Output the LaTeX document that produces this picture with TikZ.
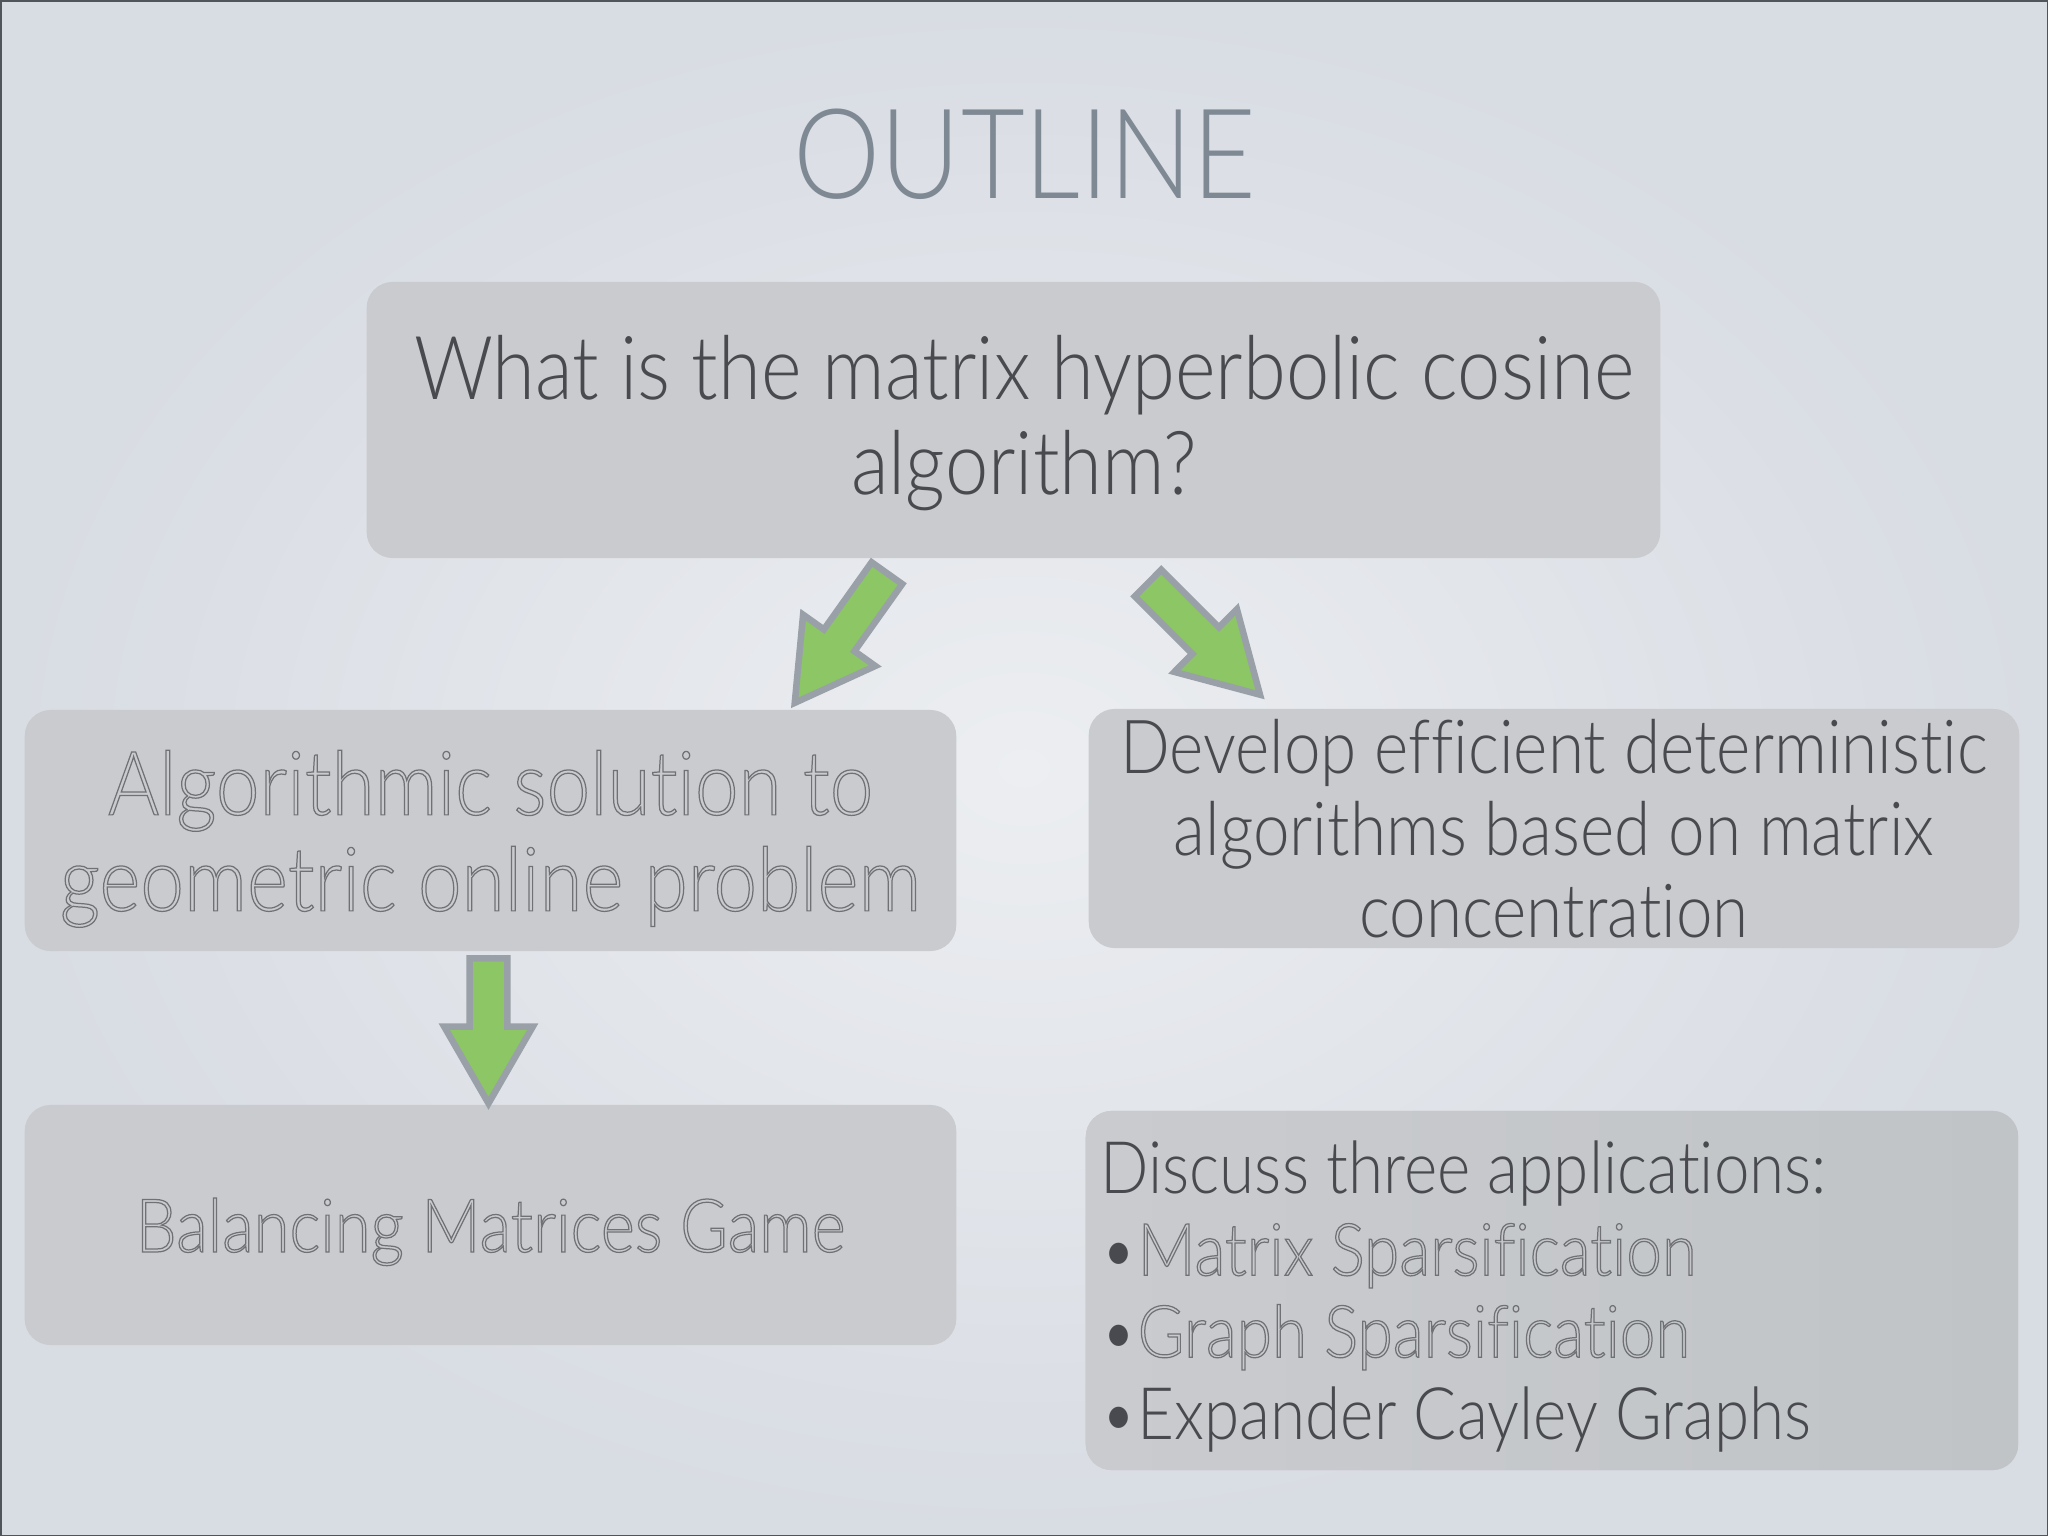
\documentclass[tikz,border=0pt]{standalone}
\usepackage{fontspec}
\IfFontExistsTF{Lato Light}
	{\setmainfont{Lato Light}[FakeStretch=0.88, Ligatures=NoCommon]}
	{\setmainfont{Lato}[FakeStretch=0.88, Ligatures=NoCommon]}
\usetikzlibrary{shapes.arrows}

\definecolor{bgin}{RGB}{236,238,241}
\definecolor{bgout}{RGB}{216,220,227}
\definecolor{framegray}{RGB}{80,85,92}
\definecolor{titlegray}{RGB}{127,137,148}
\definecolor{boxgray}{RGB}{202,203,206}
\definecolor{boxdark}{RGB}{192,196,199}
\definecolor{textgray}{RGB}{72,74,79}
\definecolor{hollowgray}{RGB}{112,113,117}
\definecolor{arrowgreen}{RGB}{141,198,101}
\definecolor{arrowgray}{RGB}{154,160,168}

% outlined (hollow) text
\newcommand{\hollow}[1]{{\color{hollowgray}\special{pdf:literal direct 1 Tr 0.35 w}#1\special{pdf:literal direct 0 Tr}}}

\begin{document}
\begin{tikzpicture}[x=0.01cm, y=-0.01cm,
	box/.style={rounded corners=0.26cm, fill=boxgray, inner sep=0pt, align=center, text=textgray},
	fat/.style={single arrow, draw=arrowgray, fill=arrowgreen, line width=0.065cm, inner xsep=0pt, inner ysep=0.155cm,
		single arrow head extend=0.255cm, single arrow tip angle=60, anchor=tail}]
		\useasboundingbox (0,0) rectangle (2048,1536);
		\shade[inner color=bgin, outer color=bgout] (0,0) rectangle (2048,1536);
		\draw[framegray, line width=0.03cm] (0,0) rectangle (2048,1536);
		
		\node[text=titlegray, font=\fontsize{35.6}{40}\selectfont, anchor=base] (title) at (1025,198) {OUTLINE};
		
		\node[box, minimum width=12.93cm, minimum height=2.76cm] (q) at (1013.5,420) {};
		\node[inner sep=0pt, align=center, text=textgray, font=\fontsize{25.1}{26.9}\selectfont] (qtext) at (1024,423)
			{What is the matrix hyperbolic cosine\\algorithm?};
		\node[box, minimum width=9.31cm, minimum height=2.41cm, text depth=0pt, font=\fontsize{25.3}{27.3}\selectfont] (alg) at (490.5,830.5)
			{\hollow{Algorithmic solution to}\\\hollow{geometric online problem}};
		\node[box, minimum width=9.30cm, minimum height=2.39cm, font=\fontsize{21.2}{23.3}\selectfont] (dev) at (1554,828.5)
			{Develop efficient deterministic\\algorithms based on matrix\\concentration};
		\node[box, minimum width=9.31cm, minimum height=2.40cm, text depth=0pt, font=\fontsize{21.05}{26}\selectfont] (bal) at (490.5,1225)
			{\hollow{Balancing Matrices Game}};
		\node[box, left color=boxgray, right color=boxdark, minimum width=9.32cm, minimum height=3.59cm] (app) at (1552,1290.5) {};
		\node[anchor=north west, inner sep=0pt, align=left, text=textgray, font=\fontsize{20.6}{23.3}\selectfont] (apptext) at (1100,1140)
			{Discuss three applications:\\\textbullet\hollow{Matrix Sparsification}\\\textbullet\hollow{Graph Sparsification}\\\textbullet Expander Cayley Graphs};
		
		\coordinate (qL) at (888.8,570.5);
		\coordinate (qR) at (1145.7,580.8);
		\coordinate (algD) at (488.5,955);
		\node[fat, rotate=234.6, minimum height=1.59cm] (arrL) at (qL) {};
		\node[fat, rotate=315.1, minimum height=1.58cm] (arrR) at (qR) {};
		\node[fat, rotate=270, minimum height=1.45cm] (arrD) at (algD) {};
\end{tikzpicture}
\end{document}
